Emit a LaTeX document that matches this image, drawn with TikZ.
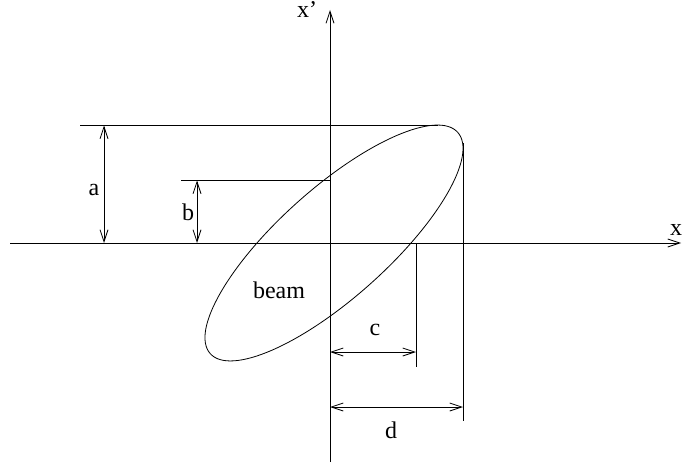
\documentclass[tikz,border=0pt]{standalone}
\usepackage{fontspec}
\setmainfont{Liberation Serif}
\usetikzlibrary{arrows.meta}
\begin{document}
\begin{tikzpicture}[x=1pt,y=-1pt,
  line/.style={line width=0.8pt,black},
  dimarrow/.style={line width=0.8pt,{Straight Barb[length=12pt,width=8pt]}-{Straight Barb[length=12pt,width=8pt]}},
  axisarrow/.style={line width=0.8pt,-{Straight Barb[length=12pt,width=8pt]}},
  lab/.style={font=\fontsize{24}{28}\selectfont,inner sep=0pt}]
\useasboundingbox (0,0) rectangle (682,465);
% coordinates
\coordinate (vbot) at (330,462);
\coordinate (vtop) at (330,10);
\coordinate (hleft) at (10,243);
\coordinate (hright) at (681,243);
\coordinate (C) at (334,243);
\coordinate (peak) at (438,125.5);
\coordinate (topl) at (80,125.5);
\coordinate (rpt) at (463,143);
\coordinate (dend) at (463,421);
\coordinate (bl) at (181,180.5);
\coordinate (br) at (330,180.5);
\coordinate (ctop) at (416,243);
\coordinate (cend) at (416,367);
\coordinate (atop) at (104,125.5);
\coordinate (abot) at (104,243);
\coordinate (btop) at (197,180.5);
\coordinate (bbot) at (197,243);
\coordinate (cl) at (330,352);
\coordinate (cr) at (416,352);
\coordinate (dl) at (330,407);
\coordinate (dr) at (463,407);
% axes
\draw[axisarrow] (vbot) -- (vtop);
\draw[axisarrow] (hleft) -- (hright);
% ellipse
\draw[line,rotate around={41.8:(C)}] (C) ellipse [x radius=166, y radius=54.7];
% reference lines
\draw[line] (topl) -- (peak);
\draw[line] (bl) -- (br);
\draw[line] (rpt) -- (dend);
\draw[line] (ctop) -- (cend);
% dimension arrows
\draw[dimarrow] (atop) -- (abot);
\draw[dimarrow] (btop) -- (bbot);
\draw[dimarrow] (cl) -- (cr);
\draw[dimarrow] (dl) -- (dr);
% labels
\node[lab,anchor=base west] (xp) at (297,17.5) {x’};
\node[lab,anchor=base west] (xl) at (670,235) {x};
\node[lab] (la) at (94,190) {a};
\node[lab] (lb) at (188,212) {b};
\node[lab] (lc) at (375,330) {c};
\node[lab] (ld) at (391,430) {d};
\node[lab] (beam) at (279,290) {beam};
\end{tikzpicture}
\end{document}
